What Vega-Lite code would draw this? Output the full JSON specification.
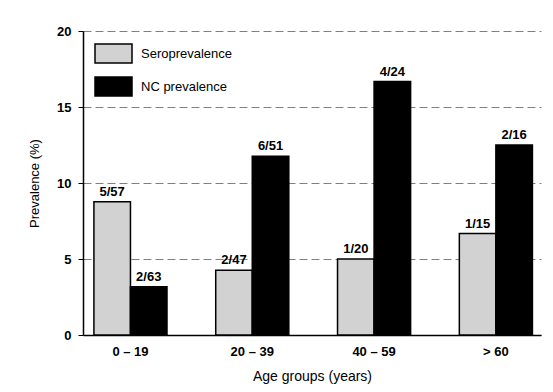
{
  "$schema": "https://vega.github.io/schema/vega-lite/v6.json",
  "width": 458,
  "height": 304,
  "autosize": "none",
  "padding": {"left": 83, "top": 31, "right": 12, "bottom": 57},
  "background": "white",
  "config": {
    "font": "Liberation Sans",
    "view": {"stroke": null}
  },
  "data": {
    "values": [
      {"age": "0 – 19", "series": "Seroprevalence", "prev": 8.77, "label": "5/57"},
      {"age": "0 – 19", "series": "NC prevalence", "prev": 3.17, "label": "2/63"},
      {"age": "20 – 39", "series": "Seroprevalence", "prev": 4.26, "label": "2/47"},
      {"age": "20 – 39", "series": "NC prevalence", "prev": 11.76, "label": "6/51"},
      {"age": "40 – 59", "series": "Seroprevalence", "prev": 5.0, "label": "1/20"},
      {"age": "40 – 59", "series": "NC prevalence", "prev": 16.67, "label": "4/24"},
      {"age": "> 60", "series": "Seroprevalence", "prev": 6.67, "label": "1/15"},
      {"age": "> 60", "series": "NC prevalence", "prev": 12.5, "label": "2/16"}
    ]
  },
  "encoding": {
    "x": {
      "field": "age",
      "type": "nominal",
      "sort": ["0 – 19", "20 – 39", "40 – 59", "> 60"],
      "scale": {"paddingInner": 0.4, "paddingOuter": 0.08, "align": 0.56},
      "axis": {
        "title": "Age groups (years)",
        "titleFontSize": 14,
        "titleFontWeight": "normal",
        "titleColor": "black",
        "titlePadding": 11,
        "labelAngle": 0,
        "labelFontSize": 13,
        "labelFontWeight": "bold",
        "labelColor": "black",
        "labelPadding": 10,
        "ticks": false,
        "domainColor": "black",
        "domainWidth": 1.5
      }
    },
    "xOffset": {"field": "series", "type": "nominal", "sort": ["Seroprevalence", "NC prevalence"]},
    "y": {
      "field": "prev",
      "type": "quantitative",
      "scale": {"domain": [0, 20]},
      "axis": {
        "title": "Prevalence (%)",
        "titleFontSize": 13,
        "titleFontWeight": "normal",
        "titleColor": "black",
        "titlePadding": 15,
        "values": [0, 5, 10, 15, 20],
        "labelFontSize": 13,
        "labelFontWeight": "bold",
        "labelColor": "black",
        "labelPadding": 7,
        "tickColor": "black",
        "tickSize": 5,
        "domainColor": "black",
        "domainWidth": 1.5,
        "grid": true,
        "gridColor": "#808080",
        "gridDash": [8, 4],
        "gridWidth": 1
      }
    }
  },
  "layer": [
    {
      "mark": {"type": "bar", "stroke": "black", "strokeWidth": 1.5},
      "encoding": {
        "color": {
          "field": "series",
          "type": "nominal",
          "sort": ["Seroprevalence", "NC prevalence"],
          "scale": {"domain": ["Seroprevalence", "NC prevalence"], "range": ["#d2d2d2", "#000000"]},
          "legend": {
            "title": null,
            "orient": "none",
            "legendX": 11,
            "legendY": 3,
            "padding": 0,
            "symbolType": "M-1,-0.514L1,-0.514L1,0.514L-1,0.514Z",
            "symbolSize": 1369,
            "symbolStrokeColor": "black",
            "symbolStrokeWidth": 1.5,
            "symbolOpacity": 1,
            "labelFontSize": 13,
            "labelColor": "black",
            "labelOffset": 8,
            "rowPadding": -4
          }
        }
      }
    },
    {
      "mark": {"type": "text", "baseline": "bottom", "dy": -3, "fontSize": 13, "fontWeight": "bold", "color": "black"},
      "encoding": {"text": {"field": "label"}}
    }
  ]
}
